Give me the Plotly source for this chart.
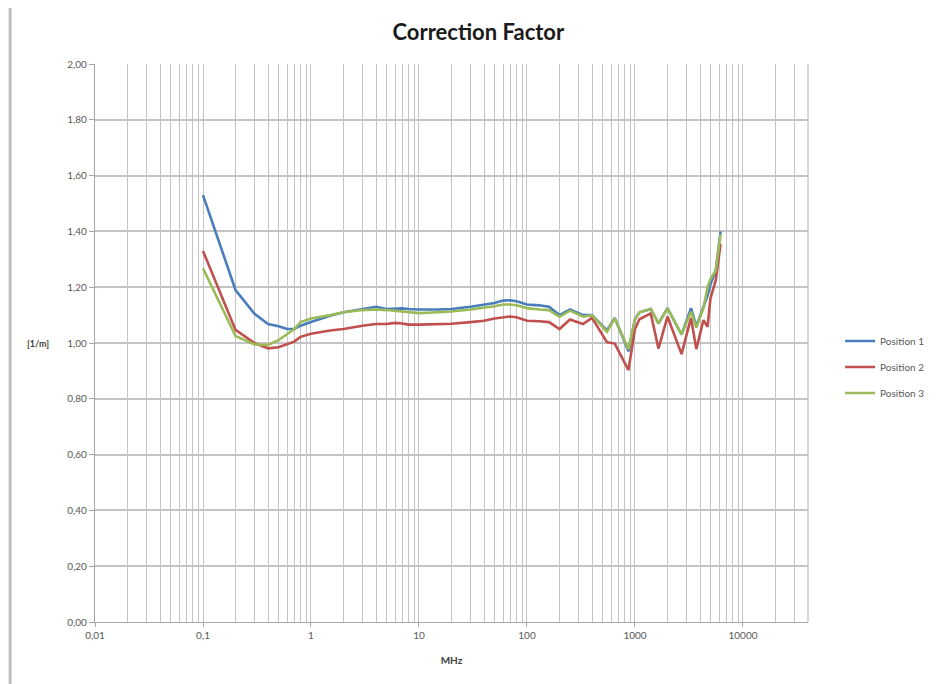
import plotly.graph_objects as go
import numpy as np

freq_mhz = [0.1, 0.2, 0.3, 0.4, 0.5, 0.6, 0.7, 0.8, 1, 1.5, 2, 3, 4, 5, 6, 7, 8, 10, 15, 20,
            30, 40, 50, 60, 70, 80, 100, 130, 160, 200, 250, 330, 400, 550, 650, 870, 1000,
            1100, 1400, 1650, 2000, 2700, 3300, 3700, 4300, 4700, 5000, 5600, 6200]

position_1 = [1.53, 1.19, 1.105, 1.068, 1.06, 1.05, 1.05, 1.062, 1.075, 1.098, 1.11, 1.122,
              1.13, 1.122, 1.124, 1.124, 1.122, 1.12, 1.12, 1.122, 1.13, 1.137, 1.143, 1.152,
              1.153, 1.15, 1.138, 1.135, 1.13, 1.10, 1.12, 1.10, 1.10, 1.045, 1.09, 0.97,
              1.085, 1.11, 1.122, 1.07, 1.125, 1.03, 1.125, 1.06, 1.125, 1.17, 1.21, 1.26, 1.40]

position_2 = [1.33, 1.047, 1.0, 0.981, 0.985, 0.995, 1.005, 1.022, 1.033, 1.045, 1.05, 1.062,
              1.068, 1.068, 1.072, 1.07, 1.066, 1.066, 1.067, 1.069, 1.075, 1.08, 1.088, 1.093,
              1.095, 1.092, 1.08, 1.078, 1.075, 1.05, 1.084, 1.068, 1.09, 1.003, 0.998, 0.903,
              1.05, 1.085, 1.106, 0.98, 1.095, 0.96, 1.09, 0.978, 1.082, 1.058, 1.16, 1.225, 1.355]

position_3 = [1.268, 1.025, 0.995, 0.993, 1.01, 1.03, 1.05, 1.075, 1.088, 1.10, 1.11, 1.118,
              1.12, 1.118, 1.115, 1.114, 1.11, 1.107, 1.11, 1.113, 1.12, 1.126, 1.132, 1.138,
              1.138, 1.135, 1.125, 1.12, 1.118, 1.094, 1.116, 1.094, 1.10, 1.04, 1.088, 0.978,
              1.085, 1.11, 1.122, 1.07, 1.124, 1.03, 1.112, 1.055, 1.124, 1.20, 1.23, 1.26, 1.39]

series_names = ["Position 1", "Position 2", "Position 3"]
series_colors = ["#4A7EBB", "#C0504D", "#9BBB59"]

x_tick_vals = [0.01, 0.1, 1, 10, 100, 1000, 10000]
x_tick_text = ["0,01", "0,1", "1", "10", "100", "1000", "10000"]
y_tick_vals = [0.0, 0.2, 0.4, 0.6, 0.8, 1.0, 1.2, 1.4, 1.6, 1.8, 2.0]
y_tick_text = ["0,00", "0,20", "0,40", "0,60", "0,80", "1,00", "1,20", "1,40", "1,60", "1,80", "2,00"]

minor_vals = [m * 10.0 ** e for e in range(-2, 5) for m in range(2, 10) if m * 10.0 ** e <= 40000]

fig = go.Figure()
for name, vals, col in zip(series_names, [position_1, position_2, position_3], series_colors):
    fig.add_trace(go.Scatter(x=freq_mhz, y=vals, mode="lines", name=name, legendgroup=name,
                             line=dict(color=col, width=2.6)))

grid_col = "#C4C4C4"
fig.update_layout(
    width=937, height=684,
    paper_bgcolor="white", plot_bgcolor="white",
    margin=dict(l=87, r=137, t=56, b=70),
    font=dict(family="Lato", size=10, color="#595959"),
    title=dict(text="<b>Correction Factor</b>", x=0.502, xanchor="center", y=0.964, yanchor="middle",
               font=dict(family="Lato", size=22, color="#1a1a1a")),
    showlegend=True,
    legend=dict(x=1.045, y=0.457, xanchor="left", yanchor="middle", tracegroupgap=7,
                font=dict(family="Lato", size=10, color="#595959"), bgcolor="rgba(0,0,0,0)"),
    xaxis=dict(type="log", range=[np.log10(0.01), np.log10(40000)],
               tickmode="array", tickvals=x_tick_vals, ticktext=x_tick_text,
               showgrid=True, gridcolor=grid_col, gridwidth=1.3,
               minor=dict(tickmode="array", tickvals=minor_vals, showgrid=True,
                          gridcolor=grid_col, gridwidth=1.3),
               showline=True, linecolor="#A6A6A6", linewidth=1.3, mirror=False,
               ticks="outside", ticklen=4, tickcolor="#A6A6A6",
               zeroline=False,
               title=dict(text="<b>MHz</b>", font=dict(family="Lato", size=10, color="#404040"),
                          standoff=16)),
    yaxis=dict(range=[0, 2.0], tickmode="array", tickvals=y_tick_vals, ticktext=y_tick_text,
               showgrid=True, gridcolor=grid_col, gridwidth=1.6,
               showline=True, linecolor="#A6A6A6", linewidth=1.3,
               ticks="outside", ticklen=5, tickcolor="#A6A6A6", zeroline=False),
)

fig.add_annotation(text="<b>[1/m]</b>", xref="paper", yref="y", x=-0.062, y=1.0,
                   xanchor="right", yanchor="middle", showarrow=False,
                   font=dict(family="Lato", size=9, color="#404040"))

# right border line of plot area and left page border
fig.add_shape(type="line", xref="paper", yref="paper", x0=1, x1=1, y0=0, y1=1,
              line=dict(color=grid_col, width=1.3))
fig.add_shape(type="line", xref="paper", yref="paper", x0=-0.119, x1=-0.119, y0=-0.13, y1=1.12,
              line=dict(color="#BDBDBD", width=3))

fig.write_html("out.html")
